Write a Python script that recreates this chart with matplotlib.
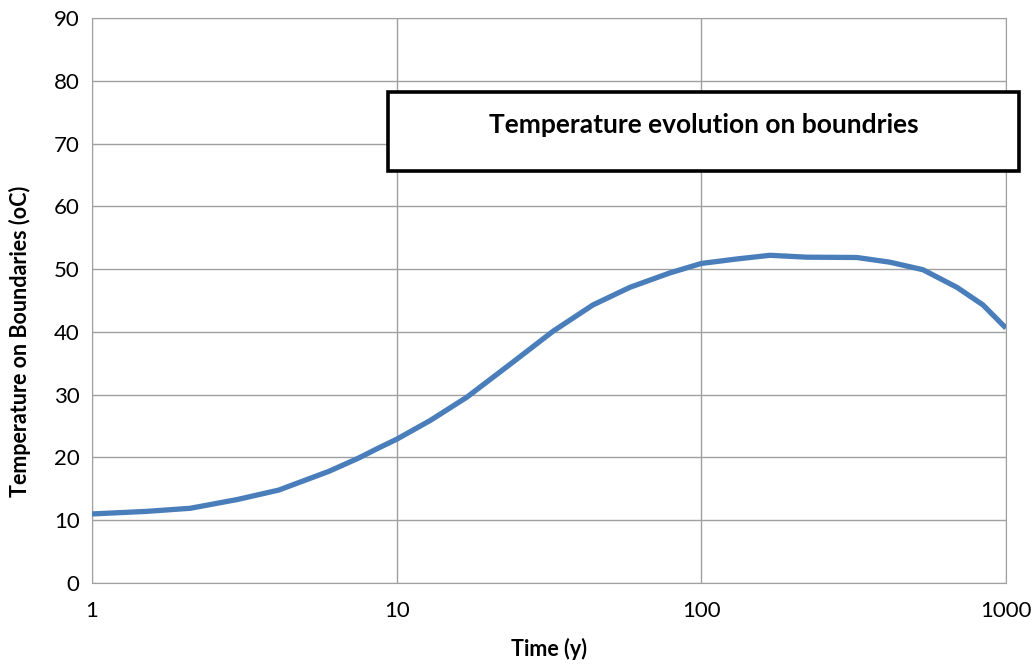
import numpy as np
import matplotlib.pyplot as plt
from matplotlib.patches import Rectangle

plt.rcParams['font.family'] = ['Lato', 'DejaVu Sans']

# time (y) and boundary temperature (oC)
time_y = [1, 1.5, 2.1, 3, 4.1, 6, 7.5, 8.8, 10, 12.9, 17.0, 24.1, 32.6, 44.1,
          58.3, 78.9, 100, 130, 168, 222, 324, 416, 534, 690, 840, 1000]
temp_c = [11.0, 11.4, 11.9, 13.3, 14.8, 17.8, 19.9, 21.6, 22.9, 25.9, 29.6,
          35.2, 40.1, 44.3, 47.1, 49.4, 50.9, 51.6, 52.2, 51.9, 51.85, 51.1,
          49.9, 47.1, 44.3, 40.6]

W, H = 1033, 664
fig = plt.figure(figsize=(W / 100, H / 100), dpi=100)
ax = fig.add_axes([92 / W, 1 - 583 / H, (1006 - 92) / W, (583 - 18) / H])

ax.plot(time_y, temp_c, color='#4a7ebb', lw=3.8, solid_capstyle='butt',
        solid_joinstyle='round', zorder=3)

ax.set_xscale('log')
ax.set_xlim(1, 1000)
ax.set_ylim(0, 90)
ax.set_xticks([1, 10, 100, 1000])
ax.set_xticklabels(['1', '10', '100', '1000'])
ax.minorticks_off()
ax.set_yticks(np.arange(0, 91, 10))
ax.tick_params(length=0, labelsize=16, pad=9)
ax.tick_params(axis='x', pad=13)
ax.grid(True, color='#a0a0a0', lw=1)
for s in ax.spines.values():
    s.set_color('#a0a0a0')

ax.set_xlabel('Time (y)', fontsize=15.5, fontweight='bold', labelpad=12)
ax.set_ylabel('Temperature on Boundaries (oC)', fontsize=15.5, fontweight='bold')
ax.yaxis.set_label_coords(-0.079, 0.428)
ax.yaxis.label.set_va('center')

# title box
x0, x1, y0, y1 = 388, 1019, 92, 171
fig.patches.append(Rectangle((x0 / W, 1 - y1 / H), (x1 - x0) / W, (y1 - y0) / H,
                             transform=fig.transFigure, facecolor='white',
                             edgecolor='black', lw=2.6, zorder=5))
fig.text((x0 + x1) / 2 / W, 1 - 125 / H, 'Temperature evolution on boundries',
         ha='center', va='center', fontsize=19, fontweight='bold', zorder=6)

fig.savefig('out.png', dpi=100)
